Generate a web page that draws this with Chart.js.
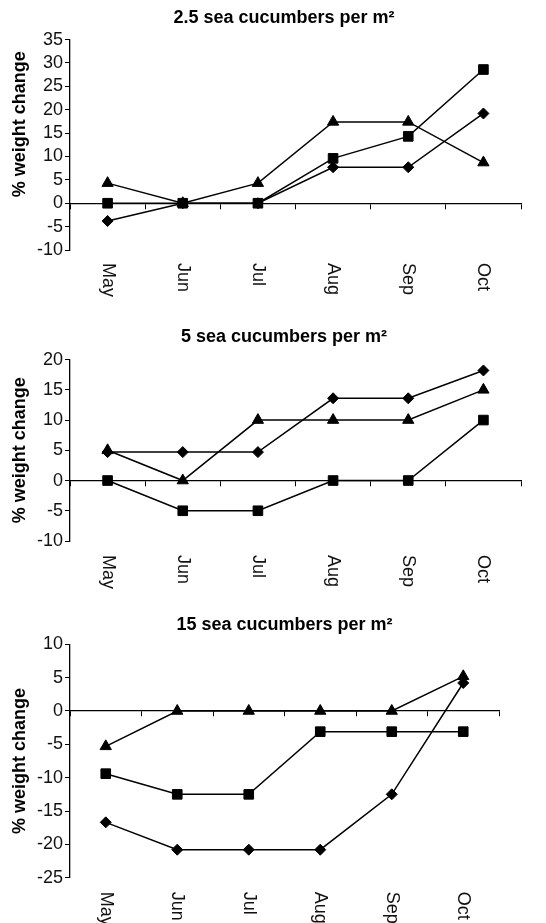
<!DOCTYPE html>
<html>
<head>
<meta charset="utf-8">
<script src="https://cdn.jsdelivr.net/npm/chart.js@4/dist/chart.umd.min.js"></script>
<style>
  body { margin: 0; background: #fff; width: 546px; height: 923px; position: relative; overflow: hidden; }
  canvas { position: absolute; left: 0; }
</style>
</head>
<body>
<canvas id="c1" width="546" height="300" style="top:0px"></canvas>
<canvas id="c2" width="546" height="291" style="top:300px"></canvas>
<canvas id="c3" width="546" height="323" style="top:600px"></canvas>
<script>
const months = ['May', 'Jun', 'Jul', 'Aug', 'Sep', 'Oct'];

// 2.5 sea cucumbers per m2
const diamond25 = [-3.8, 0, 0, 7.7, 7.7, 19.2];
const square25 = [0, 0, 0, 9.6, 14.3, 28.6];
const triangle25 = [4.3, 0, 4.3, 17.4, 17.4, 8.7];

// 5 sea cucumbers per m2
const diamond5 = [4.7, 4.7, 4.7, 13.6, 13.6, 18.2];
const square5 = [0, -5, -5, 0, 0, 10];
const triangle5 = [5, 0, 10, 10, 10, 15];

// 15 sea cucumbers per m2
const diamond15 = [-16.7, -20.8, -20.8, -20.8, -12.5, 4.2];
const square15 = [-9.4, -12.5, -12.5, -3.1, -3.1, -3.1];
const triangle15 = [-5.3, 0, 0, 0, 0, 5.2];

const FONT = '"Liberation Sans", Arial, Helvetica, sans-serif';

function series(data, style, radius) {
    return {
        data: data,
        borderColor: '#000',
        backgroundColor: '#000',
        borderWidth: 1.5,
        pointStyle: style,
        pointRadius: radius,
        pointBorderWidth: 1,
        tension: 0,
        clip: false
    };
}

function makeChart(id, title, yTitle, sets, yMin, yMax, opt) {
    return new Chart(document.getElementById(id), {
        type: 'line',
        data: {
            labels: months,
            datasets: [
                series(sets[0], 'rectRot', 5.5),
                series(sets[1], 'rect', 6.8),
                series(sets[2], 'triangle', 6.5)
            ]
        },
        options: {
            responsive: false,
            animation: false,
            layout: { padding: { left: 0, right: opt.right, top: 0, bottom: 0 } },
            plugins: {
                legend: { display: false },
                tooltip: { enabled: false },
                title: {
                    display: true,
                    text: title,
                    fullSize: false,
                    color: '#000',
                    font: { family: FONT, size: 18, weight: 'bold', lineHeight: 1.2 },
                    padding: { top: opt.titleTop, bottom: opt.titleBottom }
                }
            },
            scales: {
                x: {
                    offset: true,
                    border: { display: false },
                    grid: { display: false, drawTicks: false },
                    ticks: {
                        color: '#111',
                        font: { family: FONT, size: 18 },
                        minRotation: -90,
                        maxRotation: -90,
                        padding: opt.labelGap,
                        autoSkip: false
                    },
                    afterFit: s => {
                        s.height = opt.xHeight;
                        // labels read downward from just under the plot
                        s._getXAxisLabelAlignment = () => 'left';
                    }
                },
                x2: {
                    type: 'category',
                    position: { y: 0 },
                    offset: true,
                    border: { display: true, color: '#000', width: 1.3 },
                    grid: { display: true, offset: true, drawOnChartArea: false, drawTicks: true, tickLength: 5, color: '#000', lineWidth: 1 },
                    ticks: { display: false }
                },
                y: {
                    min: yMin,
                    max: yMax,
                    border: { display: true, color: '#000', width: 1.3 },
                    grid: { drawOnChartArea: false, drawTicks: true, tickLength: 5, color: '#000', lineWidth: 1 },
                    ticks: {
                        stepSize: 5,
                        autoSkip: false,
                        color: '#111',
                        padding: 2,
                        font: { family: FONT, size: 18 }
                    },
                    title: {
                        display: true,
                        text: yTitle,
                        color: '#000',
                        font: { family: FONT, size: 18, weight: 'bold', lineHeight: 1.2 },
                        padding: { top: 9, bottom: 0 }
                    },
                    afterFit: s => { s.width = 70; }
                }
            }
        }
    });
}

makeChart('c1', '2.5 sea cucumbers per m²\u2003 ', '\u2003\u2003 % weight change',
    [diamond25, square25, triangle25], -10, 35,
    { right: 25, titleTop: 7, titleBottom: 11, xHeight: 50, labelGap: 13 });

makeChart('c2', '5 sea cucumbers per m²\u2003 ', '% weight change',
    [diamond5, square5, triangle5], -10, 20,
    { right: 25, titleTop: 26, titleBottom: 12, xHeight: 50, labelGap: 14 });

makeChart('c3', '15 sea cucumbers per m²', '% weight change',
    [diamond15, square15, triangle15], -25, 10,
    { right: 47, titleTop: 14, titleBottom: 8.7, xHeight: 45.3, labelGap: 14 });
</script>
</body>
</html>
